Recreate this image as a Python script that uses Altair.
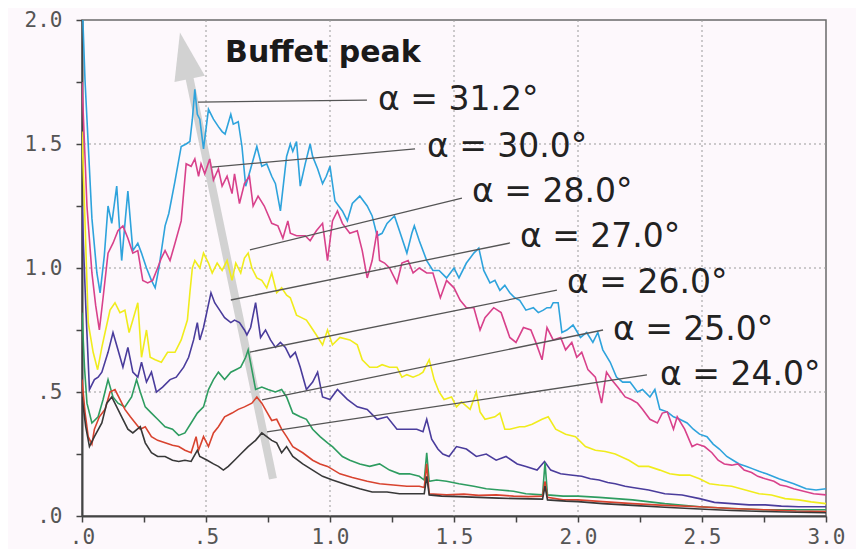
import math
import altair as alt
import pandas as pd

# ---------------- data ----------------
SERIES = ["α = 31.2°", "α = 30.0°", "α = 28.0°", "α = 27.0°", "α = 26.0°", "α = 25.0°", "α = 24.0°"]
COLORS = ["#2ea3dc", "#d8418b", "#f0ec1c", "#4a3c9c", "#2e9c60", "#d8432f", "#383838"]

A312 = [(0.0, 2.1), (0.012, 1.76), (0.04, 1.2), (0.06, 0.98), (0.073, 0.90), (0.09, 1.05), (0.105, 1.25), (0.12, 1.18),
        (0.14, 1.33), (0.16, 1.03), (0.175, 1.20), (0.185, 1.31), (0.205, 1.07), (0.225, 1.10), (0.24, 1.06), (0.26, 1.00),
        (0.28, 0.95), (0.295, 0.92), (0.31, 1.00), (0.335, 1.17), (0.35, 1.22), (0.375, 1.35), (0.40, 1.49), (0.42, 1.50),
        (0.435, 1.51), (0.445, 1.60), (0.455, 1.72), (0.465, 1.62), (0.475, 1.60), (0.49, 1.48), (0.51, 1.64), (0.53, 1.60),
        (0.55, 1.57), (0.565, 1.55), (0.577, 1.54), (0.60, 1.62), (0.61, 1.58), (0.63, 1.59), (0.645, 1.49), (0.66, 1.33),
        (0.68, 1.40), (0.705, 1.49), (0.725, 1.41), (0.745, 1.42), (0.765, 1.37), (0.78, 1.34), (0.80, 1.23), (0.825, 1.45),
        (0.84, 1.50), (0.85, 1.47), (0.865, 1.51), (0.88, 1.33), (0.90, 1.42), (0.92, 1.50), (0.93, 1.45), (0.95, 1.40),
        (0.97, 1.34), (0.985, 1.37), (1.0, 1.41), (1.02, 1.27), (1.05, 1.23), (1.07, 1.19), (1.09, 1.26), (1.12, 1.29),
        (1.15, 1.25), (1.17, 1.21), (1.19, 1.13), (1.21, 1.14), (1.23, 1.18), (1.26, 1.21), (1.28, 1.15), (1.31, 1.06),
        (1.33, 1.14), (1.34, 1.17), (1.36, 1.11), (1.39, 1.03), (1.415, 0.99), (1.44, 0.99), (1.47, 0.96), (1.50, 1.00),
        (1.52, 0.96), (1.55, 1.02), (1.58, 1.06), (1.60, 1.08), (1.62, 0.99), (1.645, 0.94), (1.665, 0.95), (1.685, 0.91),
        (1.705, 0.93), (1.725, 0.90), (1.745, 0.88), (1.765, 0.87), (1.79, 0.83), (1.82, 0.84), (1.84, 0.82), (1.86, 0.83),
        (1.875, 0.84), (1.89, 0.84), (1.90, 0.86), (1.92, 0.86), (1.935, 0.74), (1.955, 0.75), (1.98, 0.77), (2.01, 0.72),
        (2.035, 0.74), (2.06, 0.70), (2.08, 0.74), (2.10, 0.67), (2.13, 0.62), (2.155, 0.56), (2.18, 0.54), (2.21, 0.54),
        (2.24, 0.50), (2.26, 0.51), (2.29, 0.48), (2.31, 0.51), (2.33, 0.43), (2.36, 0.42), (2.385, 0.40), (2.41, 0.39),
        (2.44, 0.375), (2.465, 0.35), (2.49, 0.33), (2.52, 0.32), (2.545, 0.29), (2.57, 0.27), (2.60, 0.24), (2.625, 0.225),
        (2.65, 0.21), (2.68, 0.20), (2.705, 0.19), (2.73, 0.18), (2.76, 0.17), (2.785, 0.16), (2.81, 0.15), (2.84, 0.14),
        (2.87, 0.13), (2.895, 0.12), (2.92, 0.11), (2.96, 0.105), (3.0, 0.11)]

A300 = [(0.0, 1.75), (0.02, 1.25), (0.04, 0.98), (0.055, 0.85), (0.07, 0.75), (0.085, 0.88), (0.105, 1.06), (0.125, 1.10),
        (0.145, 1.15), (0.165, 1.17), (0.185, 1.12), (0.205, 1.06), (0.225, 1.07), (0.245, 0.95), (0.265, 0.94), (0.285, 0.95),
        (0.305, 1.00), (0.32, 1.04), (0.335, 1.07), (0.355, 1.03), (0.375, 1.10), (0.40, 1.19), (0.42, 1.42), (0.44, 1.41),
        (0.455, 1.44), (0.47, 1.37), (0.48, 1.42), (0.495, 1.38), (0.515, 1.44), (0.53, 1.355), (0.55, 1.40), (0.565, 1.33),
        (0.585, 1.37), (0.605, 1.30), (0.615, 1.38), (0.635, 1.26), (0.655, 1.34), (0.675, 1.37), (0.69, 1.25), (0.71, 1.29),
        (0.735, 1.25), (0.765, 1.18), (0.79, 1.17), (0.81, 1.12), (0.83, 1.19), (0.84, 1.14), (0.865, 1.13), (0.90, 1.13),
        (0.92, 1.11), (0.945, 1.15), (0.97, 1.18), (0.99, 1.03), (1.01, 1.19), (1.03, 1.23), (1.05, 1.18), (1.08, 1.14),
        (1.11, 1.15), (1.13, 1.07), (1.15, 0.96), (1.17, 1.03), (1.19, 1.15), (1.20, 1.03), (1.22, 1.02), (1.24, 1.00),
        (1.27, 0.94), (1.29, 1.02), (1.315, 1.03), (1.335, 0.98), (1.36, 1.00), (1.39, 0.98), (1.415, 0.98), (1.445, 0.88),
        (1.47, 0.95), (1.50, 0.92), (1.525, 0.87), (1.55, 0.84), (1.58, 0.84), (1.605, 0.75), (1.625, 0.80), (1.66, 0.84),
        (1.69, 0.82), (1.725, 0.72), (1.75, 0.70), (1.78, 0.76), (1.81, 0.75), (1.83, 0.70), (1.855, 0.63), (1.875, 0.76),
        (1.90, 0.71), (1.93, 0.72), (1.95, 0.67), (1.975, 0.70), (1.995, 0.64), (2.015, 0.66), (2.04, 0.59), (2.07, 0.56),
        (2.095, 0.455), (2.115, 0.58), (2.135, 0.55), (2.16, 0.52), (2.19, 0.48), (2.215, 0.47), (2.24, 0.455), (2.26, 0.43),
        (2.29, 0.39), (2.32, 0.375), (2.34, 0.415), (2.36, 0.42), (2.385, 0.35), (2.40, 0.40), (2.43, 0.35), (2.46, 0.28),
        (2.48, 0.29), (2.51, 0.28), (2.54, 0.255), (2.565, 0.225), (2.59, 0.21), (2.62, 0.205), (2.645, 0.21), (2.67, 0.185),
        (2.70, 0.175), (2.725, 0.16), (2.755, 0.15), (2.79, 0.14), (2.815, 0.125), (2.84, 0.12), (2.87, 0.11), (2.91, 0.10),
        (2.95, 0.09), (3.0, 0.085)]

A280 = [(0.0, 1.55), (0.015, 1.1), (0.025, 0.78), (0.045, 0.66), (0.063, 0.59), (0.08, 0.68), (0.093, 0.74), (0.113, 0.83),
        (0.133, 0.86), (0.153, 0.82), (0.173, 0.83), (0.19, 0.74), (0.205, 0.79), (0.225, 0.86), (0.24, 0.64), (0.26, 0.75),
        (0.275, 0.64), (0.295, 0.63), (0.32, 0.62), (0.345, 0.66), (0.375, 0.66), (0.40, 0.71), (0.425, 0.79), (0.435, 0.90),
        (0.445, 1.00), (0.455, 1.03), (0.475, 1.00), (0.49, 1.06), (0.51, 1.02), (0.525, 0.98), (0.545, 1.02), (0.565, 0.99),
        (0.585, 1.03), (0.605, 0.95), (0.62, 1.02), (0.64, 0.98), (0.655, 1.04), (0.67, 1.06), (0.685, 1.00), (0.705, 0.96),
        (0.725, 0.95), (0.745, 0.92), (0.765, 0.98), (0.785, 0.90), (0.805, 0.92), (0.825, 0.89), (0.84, 0.88), (0.865, 0.81),
        (0.885, 0.80), (0.905, 0.79), (0.925, 0.76), (0.945, 0.73), (0.97, 0.69), (0.99, 0.75), (1.01, 0.69), (1.04, 0.72),
        (1.08, 0.71), (1.11, 0.69), (1.13, 0.63), (1.16, 0.60), (1.19, 0.60), (1.21, 0.61), (1.24, 0.60), (1.27, 0.60),
        (1.29, 0.56), (1.31, 0.57), (1.335, 0.56), (1.36, 0.57), (1.375, 0.58), (1.39, 0.61), (1.40, 0.63), (1.42, 0.55),
        (1.44, 0.50), (1.46, 0.47), (1.49, 0.48), (1.51, 0.44), (1.53, 0.46), (1.565, 0.43), (1.59, 0.50), (1.605, 0.42),
        (1.625, 0.39), (1.665, 0.40), (1.685, 0.415), (1.705, 0.35), (1.725, 0.35), (1.765, 0.36), (1.785, 0.36),
        (1.815, 0.37), (1.855, 0.39), (1.88, 0.40), (1.91, 0.35), (1.95, 0.33), (1.99, 0.32), (2.03, 0.28), (2.07, 0.265),
        (2.11, 0.26), (2.15, 0.25), (2.205, 0.225), (2.245, 0.20), (2.285, 0.20), (2.33, 0.185), (2.37, 0.17), (2.41, 0.165),
        (2.45, 0.165), (2.49, 0.15), (2.53, 0.13), (2.57, 0.125), (2.62, 0.12), (2.675, 0.105), (2.73, 0.09), (2.78, 0.085),
        (2.835, 0.07), (2.89, 0.065), (2.94, 0.057), (3.0, 0.05)]

A270 = [(0.0, 1.25), (0.015, 0.85), (0.03, 0.51), (0.05, 0.55), (0.065, 0.56), (0.08, 0.58), (0.105, 0.66), (0.125, 0.74),
        (0.145, 0.67), (0.165, 0.60), (0.185, 0.68), (0.205, 0.58), (0.225, 0.56), (0.24, 0.62), (0.26, 0.54), (0.28, 0.58),
        (0.30, 0.50), (0.325, 0.52), (0.355, 0.55), (0.38, 0.56), (0.41, 0.60), (0.43, 0.64), (0.45, 0.71), (0.465, 0.78),
        (0.475, 0.71), (0.49, 0.76), (0.505, 0.83), (0.52, 0.90), (0.535, 0.86), (0.555, 0.83), (0.575, 0.80), (0.60, 0.78),
        (0.615, 0.79), (0.635, 0.78), (0.655, 0.75), (0.665, 0.73), (0.68, 0.76), (0.70, 0.86), (0.72, 0.72), (0.74, 0.75),
        (0.76, 0.71), (0.78, 0.68), (0.80, 0.70), (0.82, 0.68), (0.84, 0.64), (0.86, 0.66), (0.88, 0.60), (0.905, 0.51),
        (0.93, 0.54), (0.95, 0.58), (0.97, 0.48), (1.0, 0.47), (1.03, 0.51), (1.07, 0.47), (1.11, 0.44), (1.15, 0.43),
        (1.19, 0.39), (1.23, 0.40), (1.27, 0.35), (1.31, 0.35), (1.35, 0.35), (1.375, 0.34), (1.39, 0.39), (1.41, 0.31),
        (1.435, 0.27), (1.455, 0.25), (1.48, 0.24), (1.51, 0.28), (1.55, 0.27), (1.59, 0.24), (1.63, 0.25), (1.67, 0.225),
        (1.71, 0.24), (1.755, 0.21), (1.79, 0.20), (1.835, 0.185), (1.865, 0.22), (1.89, 0.185), (1.93, 0.17), (1.97, 0.165),
        (2.015, 0.16), (2.05, 0.15), (2.085, 0.145), (2.12, 0.135), (2.15, 0.13), (2.19, 0.12), (2.22, 0.115), (2.285, 0.105),
        (2.35, 0.09), (2.42, 0.085), (2.49, 0.07), (2.55, 0.055), (2.62, 0.05), (2.69, 0.045), (2.755, 0.045), (2.82, 0.04),
        (2.89, 0.037), (3.0, 0.037)]

A260 = [(0.0, 0.82), (0.01, 0.6), (0.02, 0.455), (0.04, 0.375), (0.065, 0.40), (0.085, 0.47), (0.105, 0.55), (0.125, 0.48),
        (0.145, 0.455), (0.173, 0.44), (0.20, 0.48), (0.22, 0.55), (0.235, 0.50), (0.255, 0.44), (0.28, 0.415), (0.305, 0.39),
        (0.335, 0.36), (0.365, 0.35), (0.39, 0.325), (0.415, 0.335), (0.44, 0.375), (0.465, 0.415), (0.49, 0.44), (0.51, 0.51),
        (0.53, 0.55), (0.55, 0.58), (0.575, 0.55), (0.60, 0.58), (0.62, 0.59), (0.64, 0.60), (0.66, 0.64), (0.67, 0.67),
        (0.685, 0.59), (0.70, 0.51), (0.725, 0.52), (0.75, 0.51), (0.78, 0.50), (0.805, 0.51), (0.825, 0.48), (0.85, 0.415),
        (0.88, 0.40), (0.905, 0.39), (0.93, 0.35), (0.96, 0.32), (0.99, 0.295), (1.01, 0.28), (1.05, 0.24), (1.08, 0.225),
        (1.12, 0.21), (1.16, 0.20), (1.20, 0.21), (1.24, 0.185), (1.28, 0.17), (1.32, 0.17), (1.36, 0.16), (1.38, 0.145),
        (1.39, 0.255), (1.40, 0.14), (1.43, 0.145), (1.47, 0.14), (1.52, 0.13), (1.58, 0.12), (1.63, 0.11), (1.685, 0.105),
        (1.74, 0.10), (1.79, 0.09), (1.857, 0.085), (1.867, 0.215), (1.877, 0.085), (1.94, 0.08), (2.0, 0.08), (2.085, 0.075),
        (2.22, 0.065), (2.35, 0.05), (2.49, 0.037), (2.62, 0.03), (2.755, 0.025), (3.0, 0.025)]

A250 = [(0.0, 0.55), (0.012, 0.42), (0.025, 0.32), (0.04, 0.29), (0.05, 0.35), (0.07, 0.40), (0.093, 0.43), (0.113, 0.50),
        (0.133, 0.51), (0.153, 0.47), (0.173, 0.43), (0.195, 0.40), (0.215, 0.375), (0.235, 0.35), (0.255, 0.36), (0.28, 0.32),
        (0.305, 0.305), (0.335, 0.295), (0.365, 0.285), (0.39, 0.28), (0.415, 0.265), (0.44, 0.255), (0.46, 0.32),
        (0.47, 0.265), (0.49, 0.32), (0.51, 0.28), (0.53, 0.335), (0.55, 0.36), (0.575, 0.40), (0.605, 0.415), (0.63, 0.43),
        (0.655, 0.44), (0.685, 0.455), (0.705, 0.48), (0.725, 0.455), (0.745, 0.42), (0.765, 0.385), (0.785, 0.39),
        (0.805, 0.35), (0.825, 0.32), (0.85, 0.28), (0.89, 0.255), (0.93, 0.225), (0.96, 0.21), (0.99, 0.20), (1.04, 0.17),
        (1.09, 0.155), (1.15, 0.14), (1.20, 0.13), (1.255, 0.125), (1.31, 0.12), (1.36, 0.12), (1.38, 0.115), (1.39, 0.21),
        (1.40, 0.09), (1.47, 0.085), (1.54, 0.088), (1.60, 0.083), (1.67, 0.085), (1.74, 0.08), (1.80, 0.078), (1.857, 0.08),
        (1.867, 0.14), (1.877, 0.075), (1.94, 0.065), (2.0, 0.065), (2.1, 0.058), (2.22, 0.05), (2.35, 0.043), (2.49, 0.037),
        (2.62, 0.03), (2.755, 0.025), (2.88, 0.02), (3.0, 0.018)]

A240 = [(0.0, 0.48), (0.015, 0.36), (0.03, 0.28), (0.05, 0.32), (0.08, 0.375), (0.10, 0.455), (0.12, 0.48), (0.14, 0.44),
        (0.16, 0.40), (0.185, 0.35), (0.205, 0.335), (0.235, 0.36), (0.255, 0.295), (0.28, 0.255), (0.305, 0.24),
        (0.335, 0.24), (0.365, 0.225), (0.39, 0.22), (0.415, 0.225), (0.44, 0.22), (0.465, 0.265), (0.475, 0.24),
        (0.505, 0.225), (0.53, 0.21), (0.55, 0.20), (0.57, 0.185), (0.59, 0.20), (0.615, 0.225), (0.645, 0.255), (0.67, 0.28),
        (0.70, 0.305), (0.725, 0.335), (0.745, 0.32), (0.765, 0.305), (0.785, 0.295), (0.805, 0.255), (0.825, 0.28),
        (0.85, 0.24), (0.89, 0.21), (0.93, 0.185), (0.97, 0.16), (1.01, 0.145), (1.07, 0.125), (1.12, 0.11), (1.17, 0.097),
        (1.23, 0.097), (1.28, 0.09), (1.335, 0.09), (1.38, 0.09), (1.39, 0.16), (1.40, 0.085), (1.45, 0.08), (1.52, 0.078),
        (1.60, 0.075), (1.68, 0.072), (1.76, 0.07), (1.857, 0.068), (1.867, 0.12), (1.877, 0.065), (1.95, 0.06), (2.0, 0.058),
        (2.1, 0.05), (2.22, 0.043), (2.35, 0.035), (2.49, 0.028), (2.62, 0.022), (2.755, 0.018), (2.88, 0.015), (3.0, 0.013)]

SERIES_DATA = [A312, A300, A280, A270, A260, A250, A240]

# label text anchors (left / baseline) and leader lines (curve peak -> label)
LABEL_X = [1.194, 1.391, 1.573, 1.766, 1.956, 2.141, 2.331]
LABEL_Y = [1.637, 1.448, 1.266, 1.085, 0.899, 0.710, 0.528]
LEAD_X1 = [0.468, 0.524, 0.677, 0.600, 0.677, 0.726, 0.746]
LEAD_Y1 = [1.669, 1.407, 1.073, 0.871, 0.661, 0.468, 0.339]
LEAD_X2 = [1.149, 1.343, 1.532, 1.726, 1.915, 2.101, 2.278]
LEAD_Y2 = [1.677, 1.480, 1.282, 1.101, 0.911, 0.750, 0.569]

TITLE_TEXT = "Buffet peak"
TITLE_X, TITLE_Y = 0.577, 1.831
ARROW_TAIL = (0.770, 0.15)
ARROW_TIP = (0.395, 1.95)

X_TICKS = [i * 0.25 for i in range(13)]
Y_TICKS = [i * 0.25 for i in range(9)]
GRID_X = [0.5, 1.0, 1.5, 2.0, 2.5]
GRID_Y = [0.5, 1.0, 1.5]

# ---------------- tables ----------------
rows = []
for name, pts in zip(SERIES, SERIES_DATA):
    for x, y in pts:
        rows.append({"x": x, "y": y, "series": name})
df = pd.DataFrame(rows)

labels_df = pd.DataFrame({"x": LABEL_X, "y": LABEL_Y, "text": SERIES})
leads_df = pd.DataFrame({"x": LEAD_X1, "y": LEAD_Y1, "x2": LEAD_X2, "y2": LEAD_Y2})
gx_df = pd.DataFrame({"x": GRID_X})
gy_df = pd.DataFrame({"y": GRID_Y})

# arrow: shaft ends a little inside the head so it does not stick out of the tip
sx = ARROW_TIP[0] + (ARROW_TAIL[0] - ARROW_TIP[0]) * 0.06
sy = ARROW_TIP[1] + (ARROW_TAIL[1] - ARROW_TIP[1]) * 0.06
shaft_df = pd.DataFrame({"x": [ARROW_TAIL[0]], "y": [ARROW_TAIL[1]], "x2": [sx], "y2": [sy]})
head_df = pd.DataFrame({"x": [ARROW_TIP[0]], "y": [ARROW_TIP[1]]})
# both axes use the same pixels per unit, so the data direction is the screen direction
head_angle = math.degrees(math.atan2(ARROW_TIP[0] - ARROW_TAIL[0], ARROW_TIP[1] - ARROW_TAIL[1])) % 360
title_df = pd.DataFrame({"x": [TITLE_X], "y": [TITLE_Y], "text": [TITLE_TEXT]})

# ---------------- scales / axes ----------------
LABEL_EXPR = ("(datum.value * 4) % 2 == 1 ? '' : "
              "(datum.value < 1 ? replace(format(datum.value, '.1f'), '0.', '.') : format(datum.value, '.1f'))")

xscale = alt.Scale(domain=[0, 3], nice=False, zero=False)
yscale = alt.Scale(domain=[0, 2], nice=False, zero=False)

xaxis = alt.Axis(values=X_TICKS, labelExpr=LABEL_EXPR, grid=False, tickSize=6, tickColor="#444",
                 tickWidth=1.5, domainColor="#444", domainWidth=2, labelFont="DejaVu Sans Mono",
                 labelFontSize=21, labelColor="#555", labelPadding=4, labelFlush=False,
                 labelOverlap=False, title=None)
yaxis = alt.Axis(values=Y_TICKS, labelExpr=LABEL_EXPR, grid=False, tickSize=6, tickColor="#444",
                 tickWidth=1.5, domainColor="#444", domainWidth=2, labelFont="DejaVu Sans Mono",
                 labelFontSize=21, labelColor="#555", labelPadding=14, labelOverlap=False, title=None)

X = alt.X("x:Q", scale=xscale, axis=xaxis)
Y = alt.Y("y:Q", scale=yscale, axis=yaxis)

grid_x = alt.Chart(gx_df).mark_rule(color="#9a9a9a", strokeDash=[2, 3], strokeWidth=1).encode(x=alt.X("x:Q", scale=xscale))
grid_y = alt.Chart(gy_df).mark_rule(color="#9a9a9a", strokeDash=[2, 3], strokeWidth=1).encode(y=alt.Y("y:Q", scale=yscale))

shaft = alt.Chart(shaft_df).mark_rule(color="#d2d2d2", strokeWidth=8).encode(
    x=alt.X("x:Q", scale=xscale), y=alt.Y("y:Q", scale=yscale), x2="x2:Q", y2="y2:Q")
head = alt.Chart(head_df).mark_point(
    shape="M0,0L0.62,1.9L-0.62,1.9Z", size=2500, filled=True, color="#d2d2d2", opacity=1,
    angle=head_angle, strokeWidth=0).encode(x=alt.X("x:Q", scale=xscale), y=alt.Y("y:Q", scale=yscale))

lines = alt.Chart(df).mark_line(strokeWidth=1.6, clip=True).encode(
    x=X, y=Y,
    color=alt.Color("series:N", scale=alt.Scale(domain=SERIES, range=COLORS), legend=None),
)

leads = alt.Chart(leads_df).mark_rule(color="#555555", strokeWidth=1.3).encode(
    x=alt.X("x:Q", scale=xscale), y=alt.Y("y:Q", scale=yscale), x2="x2:Q", y2="y2:Q")

labels = alt.Chart(labels_df).mark_text(align="left", baseline="alphabetic", font="DejaVu Sans",
                                        fontSize=33, color="#222222").encode(
    x=alt.X("x:Q", scale=xscale), y=alt.Y("y:Q", scale=yscale), text="text:N")

title = alt.Chart(title_df).mark_text(align="left", baseline="alphabetic", font="DejaVu Sans",
                                      fontSize=30, fontWeight="bold", color="#1a1a1a").encode(
    x=alt.X("x:Q", scale=xscale), y=alt.Y("y:Q", scale=yscale), text="text:N")

chart = alt.layer(grid_x, grid_y, shaft, head, lines, leads, labels, title).properties(
    width=744, height=496,
    autosize=alt.AutoSizeParams(type="none"),
    padding={"left": 74, "top": 12, "right": 30, "bottom": 33},
    background="#fdf8fc",
).configure_view(stroke="#6a6a6a", strokeWidth=1.5, fill="#fdf8fc")

chart.save("out.html", embed_options={"renderer": "svg", "actions": False})
